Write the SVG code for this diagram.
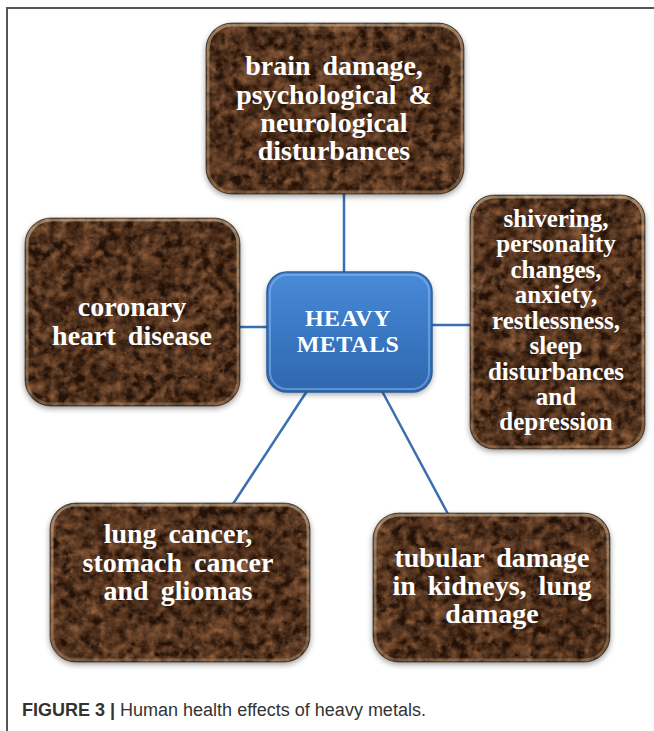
<svg xmlns="http://www.w3.org/2000/svg" width="654" height="731" viewBox="0 0 654 731">
<defs>
<filter id="marble" x="0" y="0" width="1" height="1" color-interpolation-filters="sRGB">
<feTurbulence type="turbulence" baseFrequency="0.03 0.045" numOctaves="5" seed="7" result="t"/>
<feTurbulence type="fractalNoise" baseFrequency="0.12" numOctaves="4" seed="2" result="f"/>
<feComposite in="t" in2="f" operator="arithmetic" k2="0.55" k3="0.6" k4="-0.1" result="mix"/>
<feColorMatrix in="mix" type="matrix" values="0.62 0 0 0 0.14  0.44 0 0 0 0.07  0.3 0 0 0 0.03  0 0 0 0 1" result="c"/>
<feComposite in="c" in2="SourceGraphic" operator="in"/>
</filter>
<filter id="shadow" x="-10%" y="-10%" width="120%" height="125%">
<feGaussianBlur stdDeviation="3"/>
</filter>
<linearGradient id="blue" x1="0" y1="0" x2="0" y2="1">
<stop offset="0" stop-color="#4a8ad6"/>
<stop offset="0.5" stop-color="#3a78c4"/>
<stop offset="1" stop-color="#2f67ad"/>
</linearGradient>
<linearGradient id="rim" x1="0" y1="0" x2="0" y2="1">
<stop offset="0" stop-color="#e8d2b0" stop-opacity="0.5"/>
<stop offset="1" stop-color="#d8b890" stop-opacity="0.3"/>
</linearGradient>
</defs>
<style>
.sh{fill:#000;opacity:.45;filter:url(#shadow)}
.mb{fill:#5a3a22;filter:url(#marble)}
.rim{fill:none;stroke:url(#rim);stroke-width:3}
.edge{fill:none;stroke:#2a180c;stroke-width:1;opacity:.6}
.t{font-family:"Liberation Serif","Times New Roman",serif;font-weight:bold;fill:#fff;text-anchor:middle;word-spacing:5px}
.conn line{stroke:#3a6fb0;stroke-width:2.5}
.cap{font-family:"Liberation Sans",Arial,sans-serif;font-size:18px;fill:#333}
</style>
<polyline points="7,731 7,8 654,8" fill="none" stroke="#555" stroke-width="2"/>
<g id="connectors" class="conn">
<line x1="344" y1="194" x2="344" y2="272"/>
<line x1="240" y1="327" x2="268" y2="327"/>
<line x1="431" y1="325" x2="471" y2="325"/>
<line x1="307" y1="391" x2="233" y2="504"/>
<line x1="382" y1="391" x2="448" y2="514"/>
</g>
<g id="n-top">
<rect class="sh" x="206" y="26" width="258" height="170" rx="26"/>
<rect class="mb" x="206" y="23" width="258" height="171" rx="26"/>
<rect class="rim" x="208" y="25" width="254" height="167" rx="24"/>
<rect class="edge" x="206" y="23" width="258" height="171" rx="26"/>
<text class="t" font-size="28"><tspan x="334" y="75">brain damage,</tspan><tspan x="334" y="104">psychological &amp;</tspan><tspan x="334" y="132">neurological</tspan><tspan x="334" y="160">disturbances</tspan></text>
</g>
<g id="n-left">
<rect class="sh" x="25" y="221" width="215" height="187" rx="26"/>
<rect class="mb" x="25" y="218" width="215" height="188" rx="26"/>
<rect class="rim" x="27" y="220" width="211" height="184" rx="24"/>
<rect class="edge" x="25" y="218" width="215" height="188" rx="26"/>
<text class="t" font-size="28"><tspan x="132" y="316">coronary</tspan><tspan x="132" y="345">heart disease</tspan></text>
</g>
<g id="n-right">
<rect class="sh" x="470" y="198" width="175" height="253" rx="24"/>
<rect class="mb" x="470" y="195" width="175" height="254" rx="24"/>
<rect class="rim" x="472" y="197" width="171" height="250" rx="22"/>
<rect class="edge" x="470" y="195" width="175" height="254" rx="24"/>
<text class="t" font-size="25"><tspan x="556" y="227">shivering,</tspan><tspan x="556" y="252">personality</tspan><tspan x="556" y="278">changes,</tspan><tspan x="556" y="303">anxiety,</tspan><tspan x="556" y="329">restlessness,</tspan><tspan x="556" y="354">sleep</tspan><tspan x="556" y="380">disturbances</tspan><tspan x="556" y="405">and</tspan><tspan x="556" y="430">depression</tspan></text>
</g>
<g id="n-center">
<rect x="267" y="275" width="165" height="119" rx="20" fill="#000" opacity=".4" filter="url(#shadow)"/>
<rect x="267" y="272" width="165" height="120" rx="20" fill="url(#blue)" stroke="#2b5d9c" stroke-width="1.5"/>
<rect x="270" y="275" width="159" height="114" rx="17" fill="none" stroke="#8fbdf0" stroke-opacity=".5" stroke-width="2"/>
<text class="t" font-size="24" letter-spacing="0.5"><tspan x="348" y="326">HEAVY</tspan><tspan x="348" y="352">METALS</tspan></text>
</g>
<g id="n-bl">
<rect class="sh" x="50" y="506" width="260" height="158" rx="26"/>
<rect class="mb" x="50" y="503" width="260" height="159" rx="26"/>
<rect class="rim" x="52" y="505" width="256" height="155" rx="24"/>
<rect class="edge" x="50" y="503" width="260" height="159" rx="26"/>
<text class="t" font-size="28"><tspan x="178" y="543">lung cancer,</tspan><tspan x="178" y="572">stomach cancer</tspan><tspan x="178" y="600">and gliomas</tspan></text>
</g>
<g id="n-br">
<rect class="sh" x="373" y="516" width="237" height="148" rx="26"/>
<rect class="mb" x="373" y="513" width="237" height="149" rx="26"/>
<rect class="rim" x="375" y="515" width="233" height="145" rx="24"/>
<rect class="edge" x="373" y="513" width="237" height="149" rx="26"/>
<text class="t" font-size="28"><tspan x="492" y="567">tubular damage</tspan><tspan x="492" y="595">in kidneys, lung</tspan><tspan x="492" y="623">damage</tspan></text>
</g>
<text class="cap" x="22" y="716"><tspan font-weight="bold">FIGURE 3 |</tspan> Human health effects of heavy metals.</text>
</svg>
